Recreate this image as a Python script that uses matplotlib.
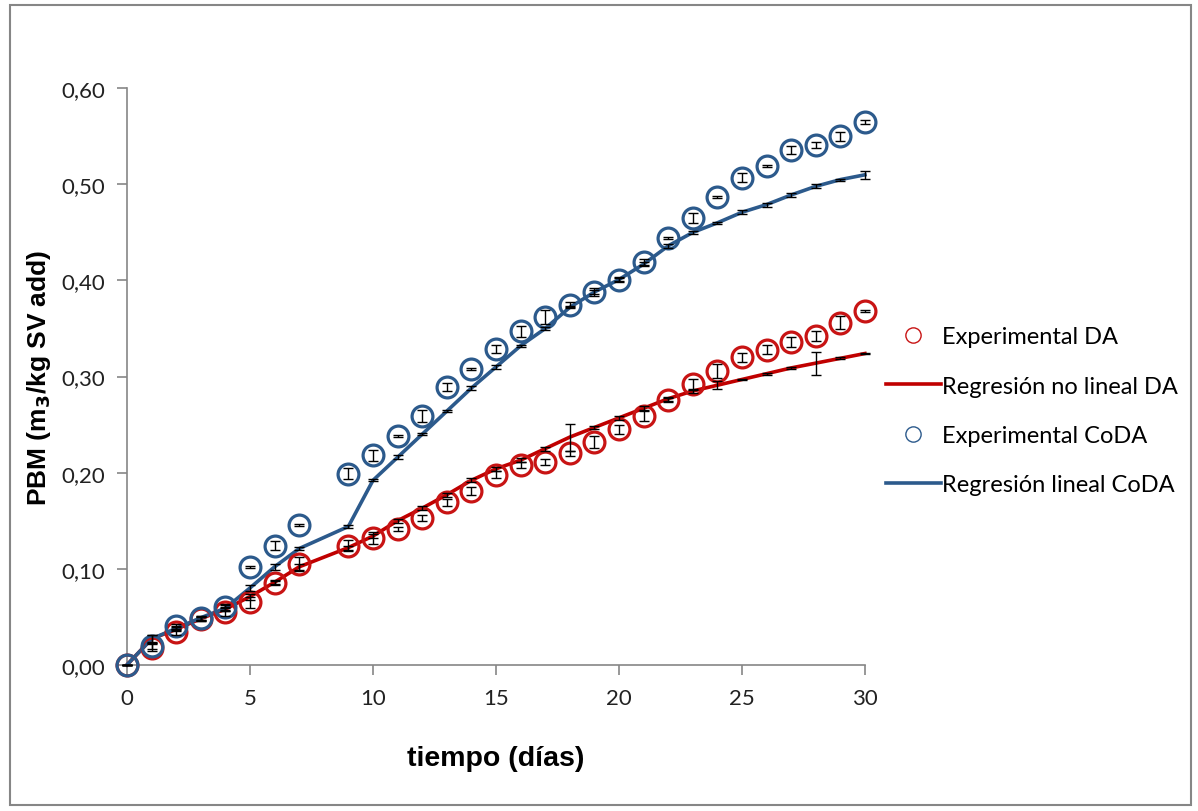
import matplotlib
matplotlib.use("Agg")
import matplotlib.pyplot as plt
from matplotlib.lines import Line2D
from matplotlib.patches import Rectangle
from matplotlib.ticker import FuncFormatter

# dias de medicion (no hay dato en el dia 8)
dias = [0, 1, 2, 3, 4, 5, 6, 7, 9, 10, 11, 12, 13, 14, 15, 16, 17, 18, 19, 20,
        21, 22, 23, 24, 25, 26, 27, 28, 29, 30]

exp_da = [0.000, 0.018, 0.034, 0.048, 0.055, 0.065, 0.085, 0.105, 0.124, 0.132,
          0.141, 0.153, 0.169, 0.181, 0.198, 0.208, 0.211, 0.220, 0.232, 0.245,
          0.259, 0.276, 0.292, 0.306, 0.320, 0.328, 0.336, 0.342, 0.356, 0.368]
err_exp_da = [0.000, 0.004, 0.003, 0.002, 0.004, 0.006, 0.002, 0.007, 0.006, 0.006,
              0.002, 0.003, 0.004, 0.004, 0.004, 0.003, 0.003, 0.003, 0.006, 0.005,
              0.005, 0.002, 0.006, 0.007, 0.005, 0.005, 0.005, 0.005, 0.007, 0.001]

reg_da = [0.000, 0.027, 0.037, 0.048, 0.058, 0.071, 0.086, 0.102, 0.122, 0.134,
          0.150, 0.163, 0.177, 0.192, 0.204, 0.213, 0.225, 0.237, 0.247, 0.257,
          0.267, 0.277, 0.285, 0.291, 0.297, 0.303, 0.309, 0.314, 0.319, 0.324]
err_reg_da = [0.000, 0.004, 0.002, 0.002, 0.002, 0.003, 0.002, 0.003, 0.002, 0.002,
              0.002, 0.002, 0.002, 0.002, 0.002, 0.002, 0.002, 0.014, 0.002, 0.002,
              0.002, 0.002, 0.002, 0.004, 0.001, 0.001, 0.001, 0.012, 0.001, 0.001]

exp_coda = [0.000, 0.020, 0.040, 0.049, 0.060, 0.102, 0.124, 0.146, 0.199, 0.218,
            0.238, 0.259, 0.289, 0.308, 0.329, 0.347, 0.362, 0.375, 0.388, 0.401,
            0.419, 0.444, 0.465, 0.487, 0.507, 0.519, 0.536, 0.541, 0.550, 0.565]
err_exp_coda = [0.000, 0.004, 0.003, 0.002, 0.003, 0.001, 0.005, 0.001, 0.006, 0.006,
                0.001, 0.006, 0.004, 0.001, 0.004, 0.006, 0.007, 0.003, 0.004, 0.003,
                0.003, 0.001, 0.005, 0.001, 0.005, 0.001, 0.004, 0.003, 0.005, 0.002]

reg_coda = [0.000, 0.027, 0.038, 0.049, 0.059, 0.080, 0.102, 0.121, 0.144, 0.192,
            0.216, 0.240, 0.264, 0.288, 0.310, 0.332, 0.350, 0.372, 0.388, 0.401,
            0.417, 0.436, 0.450, 0.460, 0.471, 0.479, 0.489, 0.498, 0.505, 0.510]
err_reg_coda = [0.000, 0.004, 0.002, 0.002, 0.003, 0.003, 0.003, 0.002, 0.002, 0.001,
                0.002, 0.001, 0.001, 0.002, 0.002, 0.001, 0.002, 0.001, 0.002, 0.002,
                0.002, 0.002, 0.002, 0.001, 0.002, 0.002, 0.002, 0.002, 0.001, 0.004]

ROJO = "#C00000"
ROJO_CIRC = "#C81414"
AZUL = "#2C5A8C"
GRIS = "#868686"

plt.rcParams['font.family'] = ['Lato', 'DejaVu Sans']

fig = plt.figure(figsize=(11.98, 8.12), dpi=100)
ax = fig.add_axes([0.106, 0.180, 0.616, 0.710])

# lineas de regresion
ax.plot(dias, reg_da, color=ROJO, lw=2.6, zorder=3, clip_on=False)
ax.plot(dias, reg_coda, color=AZUL, lw=2.6, zorder=3, clip_on=False)

# puntos experimentales
ax.plot(dias, exp_da, ls='none', marker='o', ms=15, mfc='none', mec=ROJO_CIRC,
        mew=2.3, zorder=4, clip_on=False)
ax.plot(dias, exp_coda, ls='none', marker='o', ms=15, mfc='none', mec=AZUL,
        mew=2.3, zorder=4, clip_on=False)

# barras de error
for y, e in [(exp_da, err_exp_da), (reg_da, err_reg_da),
             (exp_coda, err_exp_coda), (reg_coda, err_reg_coda)]:
    ax.errorbar(dias, y, yerr=e, fmt='none', ecolor='black', elinewidth=1,
                capsize=3.8, capthick=1, zorder=5, clip_on=False)

ax.set_xlim(0, 30)
ax.set_ylim(0, 0.6)
ax.set_xticks(range(0, 31, 5))
ax.set_yticks([0, 0.1, 0.2, 0.3, 0.4, 0.5, 0.6])
ax.yaxis.set_major_formatter(FuncFormatter(lambda v, p: f"{v:.2f}".replace('.', ',')))

for s in ['top', 'right']:
    ax.spines[s].set_visible(False)
for s in ['left', 'bottom']:
    ax.spines[s].set_color(GRIS)
    ax.spines[s].set_linewidth(1.2)
ax.tick_params(axis='both', direction='out', length=7, width=1.2, color=GRIS,
               labelsize=16, labelcolor='#222222')
ax.tick_params(axis='y', pad=9)
ax.tick_params(axis='x', pad=10)

ax.set_xlabel("tiempo (días)", fontsize=20.5, fontweight='bold', family='Liberation Sans',
              labelpad=26)
ax.set_ylabel(r"PBM (m$_\mathbf{3}$/kg SV add)", fontsize=19, fontweight='bold',
              family='Liberation Sans', labelpad=6)

# leyenda
handles = [
    Line2D([], [], ls='none', marker='o', ms=11, mfc='none', mec=ROJO_CIRC, mew=1),
    Line2D([], [], color=ROJO, lw=2.6),
    Line2D([], [], ls='none', marker='o', ms=11, mfc='none', mec=AZUL, mew=1),
    Line2D([], [], color=AZUL, lw=2.6),
]
labels = ["Experimental DA", "Regresión no lineal DA", "Experimental CoDA",
          "Regresión lineal CoDA"]
fig.legend(handles, labels, loc='center left', bbox_to_anchor=(0.722, 0.493),
           frameon=False, fontsize=17, handlelength=2.3, handletextpad=0.05,
           labelspacing=1.2)

# borde del area del grafico
fig.patches.append(Rectangle((0.008, 0.007), 0.986, 0.986, transform=fig.transFigure,
                             fill=False, edgecolor=GRIS, lw=1.5))

fig.savefig("out.png", dpi=100)
